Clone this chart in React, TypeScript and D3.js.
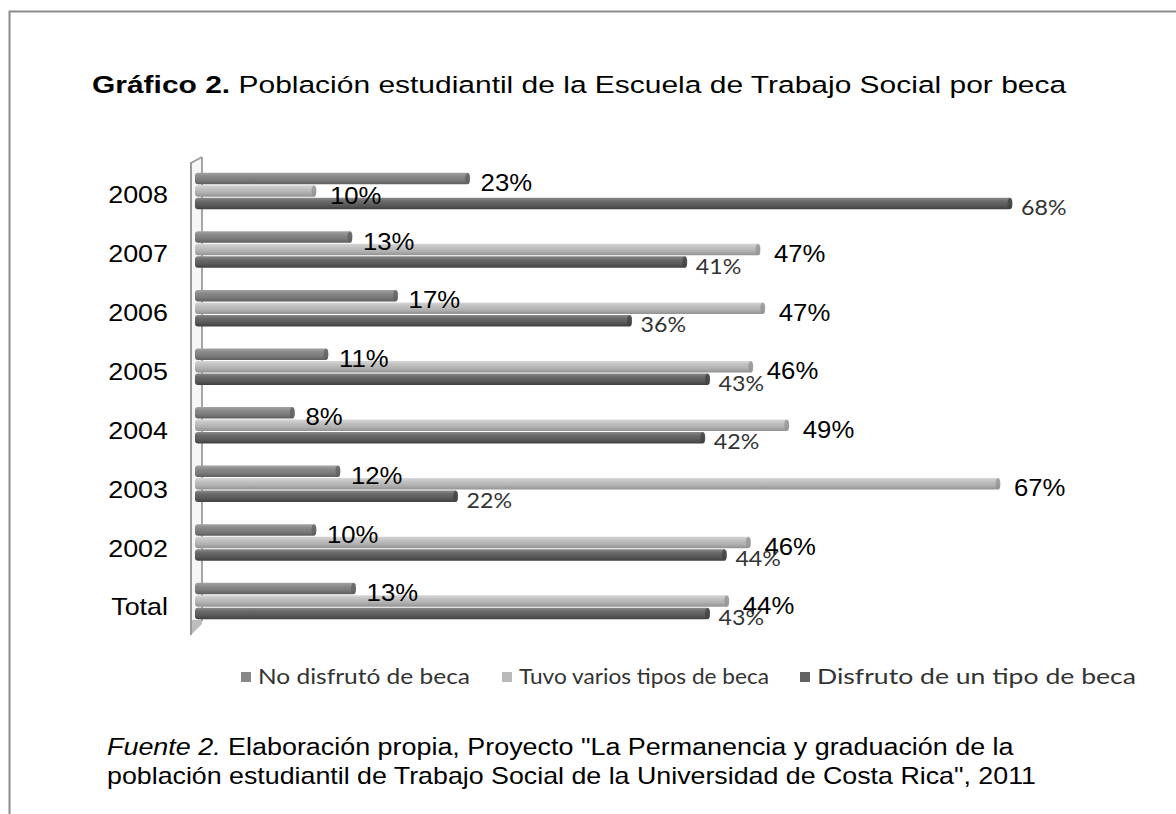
import React from "react";
import * as d3 from "d3";

const categories = ["2008", "2007", "2006", "2005", "2004", "2003", "2002", "Total"];
const seriesNames = ["No disfrutó de beca", "Tuvo varios tipos de beca", "Disfruto de un tipo de beca"];
const noDisfruto = [22.8, 13, 16.8, 11, 8.2, 12, 10, 13.3];
const tuvoVarios = [10, 47, 47.4, 46.4, 49.4, 67, 46.2, 44.4];
const disfrutoUno = [68, 40.9, 36.3, 42.8, 42.4, 21.8, 44.2, 42.8];

const seriesValues = [noDisfruto, tuvoVarios, disfrutoUno];
const grads = [
  ["#a3a3a3", "#8a8a8a", "#7a7a7a", "#5e5e5e"],
  ["#d6d6d6", "#c2c2c2", "#b0b0b0", "#929292"],
  ["#8a8a8a", "#6a6a6a", "#5a5a5a", "#404040"],
];
const legendColors = ["#878787", "#b9b9b9", "#636363"];
const legendX = [241, 502, 800];
const legendWidths = [212, 250, 319];

export default function App() {
  const W = 1176, H = 814;
  const x = d3.scaleLinear().domain([0, 70]).range([196, 1036]);
  const y = d3.scalePoint<string>().domain(categories).range([191, 601]);
  const yLab = d3.scalePoint<string>().domain(categories).range([195, 607]);
  const sub = d3.scaleBand<string>().domain(seriesNames).range([-18.75, 18.75]).padding(0);
  const bh = sub.bandwidth();
  const arial = "'Liberation Sans', Arial, sans-serif";
  const cal = "Lato, 'Open Sans', sans-serif";

  return (
    <svg width={W} height={H} style={{ position: "absolute", left: 0, top: 0, background: "#fff" }}>
      <defs>
        {grads.map((g, i) => (
          <linearGradient key={i} id={`g${i}`} x1="0" y1="0" x2="0" y2="1">
            <stop offset="0%" stopColor={g[0]} />
            <stop offset="30%" stopColor={g[1]} />
            <stop offset="65%" stopColor={g[2]} />
            <stop offset="100%" stopColor={g[3]} />
          </linearGradient>
        ))}
      </defs>
      <rect x={0} y={0} width={W} height={H} fill="#fff" />
      {/* frame */}
      <line x1={9} y1={11.5} x2={W} y2={11.5} stroke="#8c8c8c" strokeWidth={2} />
      <line x1={9.5} y1={11} x2={9.5} y2={H} stroke="#8c8c8c" strokeWidth={2} />

      {/* title */}
      <text transform="translate(92,93) scale(1.223,1)" fontFamily={arial} fontSize={24.5} fill="#000">
        <tspan fontWeight="bold">Gráfico 2.</tspan>
        <tspan> Población estudiantil de la Escuela de Trabajo Social por beca</tspan>
      </text>

      {/* 3D wall */}
      <polygon points="191,163 202,157 202,622 191,635" fill="#f6f6f6" stroke="none" />
      <polygon points="191,620 202,620 202,624 191,635" fill="#bdbdbd" />
      <line x1={191} y1={162} x2={191} y2={635} stroke="#9a9a9a" strokeWidth={2} />
      <line x1={202} y1={157} x2={202} y2={621} stroke="#a6a6a6" strokeWidth={2} />
      <line x1={191} y1={163} x2={202} y2={157} stroke="#9a9a9a" strokeWidth={1.5} />

      {/* bars */}
      {categories.map((c, ci) => (
        <g key={c}>
          {seriesNames.map((s, si) => {
            const v = seriesValues[si][ci];
            const y0 = (y(c) as number) + (sub(s) as number);
            const x1 = x(v);
            return (
              <g key={s}>
                <rect x={195} y={y0 + 0.5} width={x1 - 195} height={bh - 1} rx={3} ry={3} fill={`url(#g${si})`} />
                <ellipse cx={x1 - 2} cy={y0 + bh / 2} rx={2.5} ry={bh / 2 - 0.5} fill={grads[si][3]} opacity={0.7} />
              </g>
            );
          })}
        </g>
      ))}

      {/* labels */}
      {categories.map((c, ci) => (
        <g key={"l" + c}>
          {seriesNames.map((s, si) => {
            const v = seriesValues[si][ci];
            const cy = (y(c) as number) + (sub(s) as number) + bh / 2 + 4;
            const isSmall = si === 2;
            const lx = x(v) + (si === 0 ? 11 : si === 1 ? 14 : 9);
            return (
              <text
                key={s}
                transform={`translate(${lx},${cy}) scale(${isSmall ? 1.08 : 1.05},1)`}
                dy="0.35em"
                fontFamily={isSmall ? cal : arial}
                fontSize={isSmall ? 21.5 : 24.5}
                fill={isSmall ? "#333" : "#000"}
              >
                {Math.round(v)}%
              </text>
            );
          })}
        </g>
      ))}

      {/* category labels */}
      {categories.map((c) => (
        <text
          key={"c" + c}
          transform={`translate(168,${yLab(c)}) scale(1.12,1)`}
          dy="0.35em"
          textAnchor="end"
          fontFamily={arial}
          fontSize={24}
          fill="#000"
        >
          {c}
        </text>
      ))}

      {/* legend */}
      {legendX.map((lx, i) => (
        <g key={"lg" + i}>
          <rect x={lx} y={672} width={10} height={10} fill={legendColors[i]} />
          <text
            x={lx + 17}
            y={677}
            dy="0.35em"
            fontFamily={cal}
            fontSize={20.5}
            fill="#333"
            textLength={legendWidths[i]}
            lengthAdjust="spacingAndGlyphs"
          >
            {seriesNames[i]}
          </text>
        </g>
      ))}

      {/* source */}
      <text transform="translate(107,755) scale(1.17,1)" fontFamily={arial} fontSize={23} fill="#000">
        <tspan fontStyle="italic">Fuente 2.</tspan>
        <tspan> Elaboración propia, Proyecto "La Permanencia y graduación de la</tspan>
      </text>
      <text transform="translate(107,784) scale(1.165,1)" fontFamily={arial} fontSize={23} fill="#000">
        población estudiantil de Trabajo Social de la Universidad de Costa Rica", 2011
      </text>
    </svg>
  );
}
